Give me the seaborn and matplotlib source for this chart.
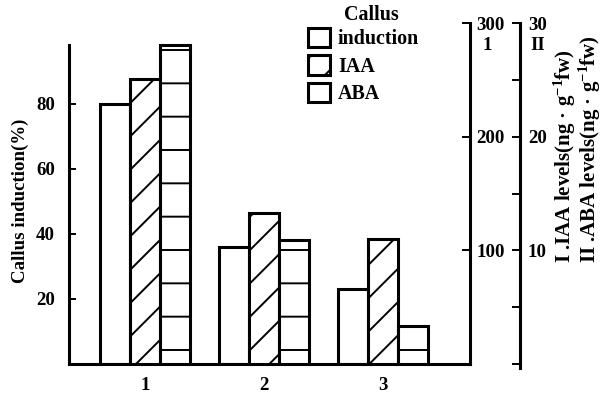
import matplotlib
matplotlib.use('Agg')
import matplotlib.pyplot as plt
from matplotlib.patches import Patch
from matplotlib.ticker import MultipleLocator
import seaborn as sns

# values
groups = ['1', '2', '3']
callus = [80, 36, 23]          # Callus induction (%)
iaa = [251, 133, 110]          # IAA levels, axis I
aba = [28.1, 10.9, 3.3]        # ABA levels, axis II

sns.set_theme(style='white')
plt.rcParams['font.family'] = ['Liberation Serif', 'DejaVu Serif']
plt.rcParams['font.weight'] = 'bold'
plt.rcParams['text.color'] = 'black'
plt.rcParams['mathtext.fontset'] = 'custom'
plt.rcParams['mathtext.rm'] = 'Liberation Serif:bold'
plt.rcParams['mathtext.it'] = 'Liberation Serif:italic:bold'
plt.rcParams['hatch.linewidth'] = 0.7
plt.rcParams['hatch.color'] = 'black'

# dpi 200 so the hatch spacing matches the printed figure
fig = plt.figure(figsize=(3.04, 1.97), dpi=200)
ax = fig.add_axes([69/608, 30/394, 401/608, 341/394])
ax1 = ax.twinx()
ax2 = ax.twinx()

pos = list(range(len(groups)))
w = 0.25
bar_kw = dict(native_scale=True, width=w, color='white', edgecolor='black',
              linewidth=1.1, saturation=1, errorbar=None)
sns.barplot(x=[p - w for p in pos], y=callus, ax=ax, **bar_kw)
sns.barplot(x=pos, y=iaa, ax=ax1, hatch='//', **bar_kw)
sns.barplot(x=[p + w for p in pos], y=aba, ax=ax2, hatch='-', **bar_kw)

tick_fs = 6.8
lw = 1.1

# left axis
ax.set_ylim(0, 104.9)
ax.set_yticks([20, 40, 60, 80])
ax.set_xticks(pos, groups)
for s in ['top', 'right']:
    ax.spines[s].set_visible(False)
for s in ['left', 'bottom']:
    ax.spines[s].set_linewidth(lw)
    ax.spines[s].set_color('black')
ax.spines['left'].set_bounds(0, 98)
ax.tick_params(axis='y', direction='in', length=2.5, width=0.7, pad=5,
               labelsize=tick_fs, colors='black', left=True)
ax.tick_params(axis='x', length=0, pad=4.5, labelsize=tick_fs, colors='black')
ax.set_ylabel('')

# right axis I
ax1.set_ylim(0, 300)
ax1.set_yticks([100, 200, 300])
for s in ['top', 'left', 'bottom']:
    ax1.spines[s].set_visible(False)
ax1.spines['right'].set_linewidth(lw)
ax1.spines['right'].set_color('black')
ax1.tick_params(axis='y', direction='in', length=2.8, width=0.7, pad=2.3,
                labelsize=tick_fs, colors='black', right=True)
ax1.set_ylabel('')

# right axis II
ax2.set_ylim(0, 30)
ax2.set_yticks([10, 20, 30])
ax2.yaxis.set_minor_locator(MultipleLocator(5))
for s in ['top', 'left', 'bottom']:
    ax2.spines[s].set_visible(False)
ax2.spines['right'].set_position(('axes', 451/401))
ax2.spines['right'].set_linewidth(lw)
ax2.spines['right'].set_color('black')
ax2.spines['right'].set_bounds(-0.35, 30)
ax2.tick_params(axis='y', which='both', direction='in', length=2.8, width=0.7,
                pad=2.8, labelsize=tick_fs, colors='black', right=True)
ax2.set_ylabel('')

ax.set_xlim(-0.639, 2.731)

# axis titles
fig.text(20/608, 1 - 201/394, 'Callus induction(%)', rotation=90,
         ha='center', va='center', fontsize=6.8)
fig.text(565/608, 1 - 263/394, 'I .IAA levels(ng · g$^{-1}$fw)', rotation=90,
         ha='center', va='bottom', fontsize=7.5)
fig.text(590/608, 1 - 263/394, 'II .ABA levels(ng · g$^{-1}$fw)', rotation=90,
         ha='center', va='bottom', fontsize=7.5)
fig.text(487/608, 1 - 45/394, '1', ha='center', va='center', fontsize=tick_fs)
fig.text(538/608, 1 - 45/394, 'II', ha='center', va='center', fontsize=tick_fs)

# legend
handles = [Patch(facecolor='white', edgecolor='black', linewidth=lw, hatch=h)
           for h in ['', '//', '-']]
fig.legend(handles, ['induction', 'IAA', 'ABA'], loc='upper left',
           bbox_to_anchor=(308/608, 1 - 28/394), frameon=False, fontsize=7.2,
           handlelength=1.1, handleheight=1.1, handletextpad=0.4,
           labelspacing=0.3, borderpad=0, borderaxespad=0)
fig.text(371/608, 1 - 15/394, 'Callus', ha='center', va='center', fontsize=7.2)

fig.savefig('out.png', dpi=200)
